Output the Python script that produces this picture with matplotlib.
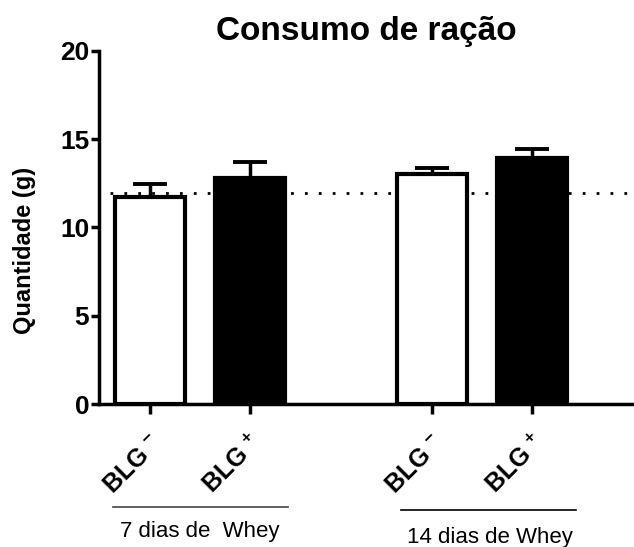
import matplotlib.pyplot as plt
import numpy as np

plt.rcParams['font.family'] = ['Liberation Sans', 'DejaVu Sans']
plt.rcParams['mathtext.fontset'] = 'custom'
plt.rcParams['mathtext.bf'] = 'Liberation Sans:bold'
plt.rcParams['mathtext.rm'] = 'Liberation Sans:bold'
plt.rcParams['mathtext.default'] = 'bf'

# dados
grupos = ['BLG $^{-}$', 'BLG $^{+}$', 'BLG $^{-}$', 'BLG $^{+}$']
medias = [11.7, 12.8, 13.0, 13.9]
erros = [0.75, 0.9, 0.38, 0.53]
cores = ['white', 'black', 'white', 'black']
posicoes = [0, 1, 2.82, 3.82]
linha_ref = 11.92
rotulos_grupo = ['7 dias de  Whey', '14 dias de Whey']

fig = plt.figure(figsize=(6.34, 5.47), dpi=100)
ax = fig.add_axes([0.156, 0.2614, 0.844, 0.6459])

# linha de referência pontilhada (fica atrás das barras)
ax.axhline(linha_ref, xmin=0.02, xmax=1, color='black', linestyle=(0, (1, 4)),
           linewidth=2, zorder=1)

ax.errorbar(posicoes, medias, yerr=[np.zeros(len(erros)), erros], fmt='none',
            ecolor='black', elinewidth=2.5, capsize=12, capthick=2.8, zorder=1.5)
ax.bar(posicoes, medias, width=0.7, color=cores, edgecolor='black',
       linewidth=3, zorder=2)

ax.set_xlim(-0.51, 4.84)
ax.set_ylim(0, 20)
ax.set_yticks([0, 5, 10, 15, 20])
ax.set_xticks(posicoes)
ax.set_xticklabels(grupos, rotation=45, ha='right', rotation_mode='anchor',
                   fontsize=18, fontweight='bold')
for t in ax.get_yticklabels():
    t.set_fontsize(19)
    t.set_fontweight('bold')

ax.spines['top'].set_visible(False)
ax.spines['right'].set_visible(False)
ax.spines['left'].set_linewidth(2.5)
ax.spines['bottom'].set_linewidth(2.5)
ax.tick_params(axis='y', length=6, width=2.5, pad=1)
ax.tick_params(axis='x', length=7, width=2.5, pad=12)

ax.set_title('Consumo de ração', fontsize=24, fontweight='bold', pad=8)
ax.set_ylabel('Quantidade (g)', fontsize=17, fontweight='bold')
ax.yaxis.set_label_coords(-0.118, 0.436)

# linhas e textos dos grupos
fig.add_artist(plt.Line2D([113/634, 288/634], [1-506.7/547]*2, color='#444444', linewidth=1.2))
fig.add_artist(plt.Line2D([401/634, 576/634], [1-510/547]*2, color='black', linewidth=1.2))
fig.text(200/634, 1-532/547, rotulos_grupo[0], ha='center', va='center', fontsize=16)
fig.text(490/634, 1-537/547, rotulos_grupo[1], ha='center', va='center', fontsize=16)

plt.savefig('out.png', dpi=100)
